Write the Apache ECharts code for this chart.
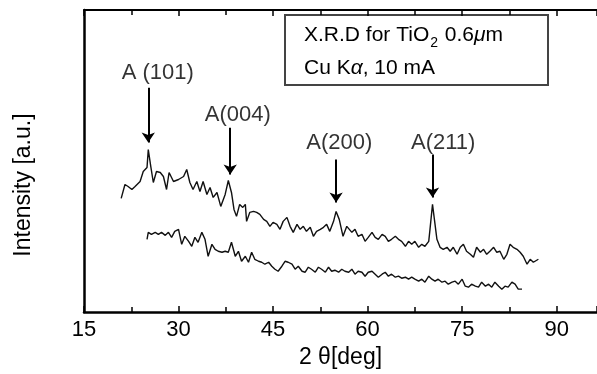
<!DOCTYPE html>
<html>
<head>
<meta charset="utf-8">
<script src="https://cdn.jsdelivr.net/npm/echarts@6/dist/echarts.min.js"></script>
<style>html,body{margin:0;padding:0;background:#fff}#c{width:597px;height:374px}</style>
</head>
<body>
<div id="c"></div>
<script>
// 2θ (deg) and intensity (a.u.)
const upperTheta = [20.9,21.5,22.0,22.6,23.1,23.9,24.4,25.0,25.2,25.6,26.0,26.5,27.1,27.6,28.1,28.5,29.2,30.0,30.8,31.3,31.8,32.3,32.9,33.4,33.9,34.5,35.0,35.5,36.1,36.7,37.4,37.9,38.4,38.8,39.2,39.7,40.2,40.6,40.8,41.3,41.9,42.4,42.9,43.5,44.0,44.5,45.0,45.6,46.1,46.6,47.2,47.7,48.2,48.8,49.3,49.8,50.3,50.9,51.4,51.9,52.5,53.0,53.5,54.0,54.6,55.0,55.5,56.1,56.7,57.0,57.5,58.0,58.5,59.1,59.6,60.1,60.7,61.2,61.7,62.3,62.8,63.3,63.8,64.4,64.9,65.4,66.0,66.5,67.0,67.5,68.1,68.6,69.1,69.7,69.9,70.3,70.6,71.0,71.5,72.0,72.6,73.1,73.6,74.2,74.7,75.2,75.7,76.3,76.8,77.3,77.9,78.4,78.9,79.4,80.0,80.5,81.0,81.6,82.1,82.6,83.1,83.7,84.2,84.7,85.3,85.8,86.3,87.1];
const upperIntensity = [114,128,126,123,126,131,141,145,163,146,130,141,140,136,123,140,131,133,136,143,130,123,131,121,131,118,125,115,120,106,118,132,120,103,96,108,105,108,91,100,101,100,98,93,91,86,90,88,83,91,95,86,80,88,83,86,81,85,76,81,83,85,88,81,91,101,93,76,86,86,80,83,76,78,71,75,80,75,73,78,76,71,73,76,73,71,66,71,68,71,65,68,66,71,83,108,93,73,65,63,65,61,65,58,65,68,61,58,55,65,60,63,58,61,65,60,61,53,58,68,65,63,60,56,48,53,50,53];
const lowerTheta = [25.0,25.2,25.7,26.3,26.8,27.3,27.9,28.4,28.9,29.4,30.0,30.5,31.0,31.6,32.1,32.6,33.1,33.7,34.2,34.7,35.3,35.8,36.3,36.9,37.4,37.9,38.4,39.0,39.5,40.0,40.6,41.1,41.6,42.1,42.7,43.2,43.7,44.3,44.8,45.3,45.8,46.4,46.9,47.4,48.0,48.5,49.0,49.6,50.1,50.6,51.1,51.7,52.2,52.7,53.3,53.8,54.3,54.8,55.4,55.9,56.4,57.0,57.5,58.0,58.5,59.1,59.6,60.1,60.7,61.2,61.7,62.3,62.8,63.3,63.8,64.4,64.9,65.4,66.0,66.5,67.0,67.5,68.1,68.6,69.1,69.7,70.2,70.7,71.2,71.8,72.3,72.8,73.4,73.9,74.4,75.0,75.5,76.0,76.5,77.1,77.6,78.1,78.7,79.2,79.7,80.2,80.8,81.3,81.8,82.3,82.9,83.4,83.9,84.5];
const lowerIntensity = [73,80,78,80,78,80,77,80,75,81,83,68,76,71,66,75,70,80,73,56,68,63,61,60,61,60,70,56,61,51,56,50,60,53,51,50,48,50,46,43,41,46,51,50,48,43,46,41,40,45,43,40,45,43,40,45,41,42,40,43,41,40,43,38,41,40,36,40,41,38,35,38,40,36,38,35,36,34,35,33,35,33,31,33,30,36,33,31,33,30,31,28,30,31,28,33,26,25,28,26,25,30,26,28,25,30,26,23,26,25,30,28,23,23];
const xTicks = [15,30,45,60,75,90];
// peak annotations: name, 2θ, arrow start/end intensity, label position
const peakNames = ['A (101)','A(004)','A(200)','A(211)'];
const peakTheta = [25.2,38.2,55.0,70.3];
const arrowFrom = [225,185,153,158];
const arrowTo = [170,138,110,115];
const labelTheta = [26.7,39.4,55.5,72.0];
const labelIntensity = [240,198,170,170];

const zip = (a,b) => a.map((v,i)=>[v,b[i]]);
const FONT = 'Liberation Sans, Arial, sans-serif';
const FS = 22;
const chart = echarts.init(document.getElementById('c'));
const axisCommon = {
  type:'value', min:xTicks[0], max:96.4, interval:xTicks[1]-xTicks[0],
  splitLine:{show:false},
  axisTick:{inside:true,length:6,lineStyle:{color:'#000',width:1.5}},
  minorTick:{show:true,splitNumber:2,length:5,lineStyle:{color:'#000',width:1.5}}
};
chart.setOption({
  animation:false,
  grid:{left:84,top:10,right:0,bottom:61},
  xAxis:[
    Object.assign({},axisCommon,{
      position:'bottom',
      axisLine:{lineStyle:{color:'#000',width:2.5}},
      axisLabel:{fontSize:FS,color:'#000',fontFamily:FONT,margin:7,showMaxLabel:false,
        formatter:v=>xTicks.includes(v)?String(v):''},
      name:'2 θ[deg]',nameLocation:'middle',nameGap:32,
      nameTextStyle:{fontSize:FS+1,color:'#000',fontFamily:FONT}
    }),
    Object.assign({},axisCommon,{
      position:'top',
      axisLine:{lineStyle:{color:'#000',width:2}},
      axisLabel:{show:false}
    })
  ],
  yAxis:{
    type:'value',min:0,max:303,
    axisLine:{show:true,lineStyle:{color:'#000',width:2.5}},
    axisTick:{show:false},axisLabel:{show:false},splitLine:{show:false},
    name:'Intensity [a.u.]',nameLocation:'middle',nameGap:49,
    nameTextStyle:{fontSize:FS+1,color:'#000',fontFamily:FONT,padding:[0,48,0,0]}
  },
  series:[
    {type:'line',data:zip(upperTheta,upperIntensity),showSymbol:false,
      lineStyle:{color:'#111',width:1.4},
      markLine:{silent:true,symbol:['none','arrow'],symbolSize:10,
        lineStyle:{color:'#000',width:2,type:'solid'},label:{show:false},
        data:peakTheta.map((t,i)=>[{coord:[t,arrowFrom[i]]},{coord:[t,arrowTo[i]]}])}
    },
    {type:'line',data:zip(lowerTheta,lowerIntensity),showSymbol:false,
      lineStyle:{color:'#111',width:1.4}},
    {type:'scatter',symbolSize:0,silent:true,
      data:peakNames.map((n,i)=>({name:n,value:[labelTheta[i],labelIntensity[i]]})),
      label:{show:true,position:'inside',formatter:p=>p.name,fontSize:FS,color:'#000',fontFamily:FONT}
    }
  ],
  graphic:[
    {type:'rect',shape:{x:285,y:15,width:263,height:70},
      style:{fill:'#fff',stroke:'#444',lineWidth:2}},
    {type:'text',x:304,y:19,style:{
      text:'{a|X.R.D for TiO}{s|2}{a| 0.6}{i|μ}{a|m}\n{a|Cu K}{i|α}{a|, 10 mA}',
      rich:{
        a:{fontSize:21,fontFamily:FONT,fill:'#000',lineHeight:33},
        i:{fontSize:21,fontFamily:FONT,fontStyle:'italic',fill:'#000',lineHeight:33},
        s:{fontSize:14,fontFamily:FONT,fill:'#000',lineHeight:33,padding:[15,1,0,1]}
      }}}
  ]
});
</script>
</body>
</html>
